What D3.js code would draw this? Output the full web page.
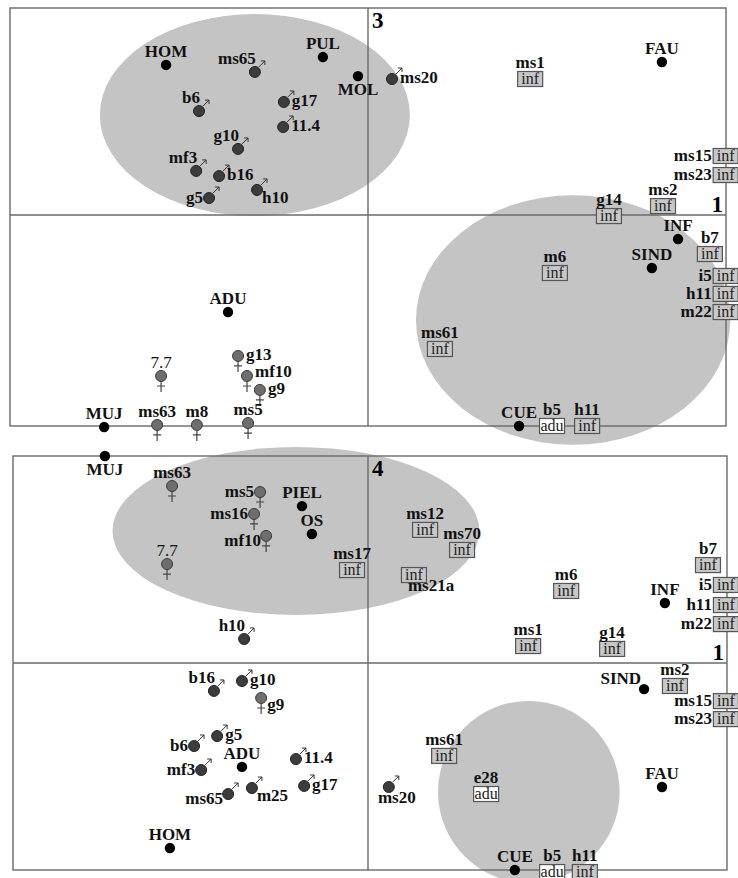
<!DOCTYPE html>
<html><head><meta charset="utf-8">
<script src="https://cdn.jsdelivr.net/npm/d3@7"></script>
<style>html,body{margin:0;padding:0;background:#fff;}</style>
</head><body>
<script>
// ---------- DATA (axis scores) ----------
// Panel A: axis 1 (horizontal) x axis 3 (vertical)
const topAxisNames = ["1", "3"];
const topSupplementary = [["HOM",-0.564,0.725],["PUL",-0.126,0.763],["MOL",-0.028,0.671],["FAU",0.821,0.739],["INF",0.866,-0.114],["SIND",0.793,-0.251],["ADU",-0.391,-0.460],["MUJ",-0.737,-1.005],["CUE",0.422,-1.0]];
const topMale = [["ms65",-0.316,0.691],["b6",-0.472,0.502],["g17",-0.235,0.546],["11.4",-0.237,0.425],["g10",-0.363,0.319],["mf3",-0.480,0.213],["b16",-0.416,0.188],["h10",-0.310,0.121],["g5",-0.444,0.082],["ms20",0.067,0.657]];
const topFemale = [["g13",-0.363,-0.668],["7.7",-0.578,-0.763],["mf10",-0.338,-0.763],["g9",-0.302,-0.829],["ms63",-0.589,-0.995],["m8",-0.478,-0.995],["ms5",-0.335,-0.986]];
const topInfant = [["ms1",0.453,0.657],["ms15",0.999,0.285],["ms23",0.999,0.193],["ms2",0.824,0.043],["g14",0.673,-0.005],["b7",0.955,-0.185],["m6",0.522,-0.275],["i5",0.999,-0.289],["h11",0.999,-0.374],["m22",0.999,-0.460],["ms61",0.201,-0.635],["h11",0.612,-1.0]];
const topAdult = [["b5",0.514,-1.0]];
const topEllipses = [[-0.316,0.483,0.433,0.488],[0.573,-0.498,0.439,0.592]];

// Panel B: axis 1 (horizontal) x axis 4 (vertical)
const bottomAxisNames = ["1", "4"];
const bottomSupplementary = [["MUJ",-0.741,1.0],["PIEL",-0.186,0.758],["OS",-0.158,0.623],["INF",0.827,0.290],["SIND",0.769,-0.126],["ADU",-0.355,-0.502],["HOM",-0.558,-0.894],["FAU",0.819,-0.599],["CUE",0.409,-1.0]];
const bottomMale = [["h10",-0.349,0.116],["b16",-0.434,-0.135],["g10",-0.355,-0.087],["g5",-0.425,-0.353],["b6",-0.490,-0.401],["11.4",-0.203,-0.464],["mf3",-0.470,-0.517],["ms65",-0.394,-0.633],["m25",-0.327,-0.604],["g17",-0.180,-0.594],["ms20",0.058,-0.599]];
const bottomFemale = [["ms63",-0.552,0.855],["ms5",-0.304,0.826],["ms16",-0.321,0.720],["mf10",-0.287,0.614],["7.7",-0.566,0.478],["g9",-0.301,-0.169]];
const bottomInfant = [["ms17",-0.045,0.449],["ms12",0.159,0.643],["ms70",0.262,0.546],["ms21a",0.128,0.425],["m6",0.552,0.348],["b7",0.947,0.473],["i5",0.997,0.377],["h11",0.997,0.280],["m22",0.997,0.188],["ms1",0.446,0.082],["g14",0.680,0.068],["ms2",0.855,-0.111],["ms15",0.997,-0.184],["ms23",0.997,-0.271],["ms61",0.212,-0.449],["h11",0.604,-1.01]];
const bottomAdult = [["e28",0.329,-0.633],["b5",0.513,-1.01]];
const bottomEllipses = [[-0.203,0.638,0.515,0.406],[0.448,-0.623,0.253,0.440]];

// ---------- LABEL PLACEMENT (parallel to the data arrays) ----------
const topSupLab = ["t","t","b","t","t","t","t","t","t"];
const topMaleLab = ["tl","tl","r","r","tl","tl","r","br","l","r"];
const topFemaleLab = ["r","t","rc","r","t","t","t"];
const topInfLab = ["t","l","l","t","t","t","t","l","l","l","t","t"];
const topAduLab = ["t"];
const bottomSupLab = ["b","t","t","t","ul","t","t","t","t"];
const bottomMaleLab = ["tl","tl","r","r","l","r","l","lb","br","r","bR"];
const bottomFemaleLab = ["t","l","l","lb","t","rb"];
const bottomInfLab = ["t","t","t","bb","t","t","l","l","l","t","t","t","l","l","t","t"];
const bottomAduLab = ["t","t"];

// ---------- RENDER ----------
const W = 738, H = 878;
const svg = d3.select("body").append("svg").attr("width", W).attr("height", H);
const FONT = "'Liberation Serif','Times New Roman',serif";

const dotOff = {t:["middle",0,-8], b:["middle",0,19], bR:["middle",8,16], r:["start",8,4], rc:["start",8,1], rb:["start",6,12],
  l:["end",-6,5], lb:["end",-5,10], tl:["end",1,-8], br:["start",5,13], ul:["end",-3,-5]};
const boxOff = {t:["middle",0,-11], l:["end",-14,5], bb:["start",-6,16]};

function panel(cfg) {
  const x = d3.scaleLinear().domain([-1,0,1]).range(cfg.xr);
  const y = d3.scaleLinear().domain([-1,0,1]).range(cfg.yr);
  const g = svg.append("g");

  // ellipses
  g.selectAll("ellipse").data(cfg.ellipses).join("ellipse")
    .attr("cx", d => x(d[0])).attr("cy", d => y(d[1]))
    .attr("rx", d => (x(d[0]+d[2]) - x(d[0]-d[2]))/2)
    .attr("ry", d => (y(d[1]-d[3]) - y(d[1]+d[3]))/2)
    .attr("fill", "#c4c4c4");

  // frame and axes
  const fr = g.append("g").attr("stroke", "#6a6a6a").attr("stroke-width", 1.4).attr("fill", "none");
  fr.append("rect").attr("x", x(-1)).attr("y", y(1)).attr("width", x(1)-x(-1)).attr("height", y(-1)-y(1));
  fr.append("line").attr("x1", x(0)).attr("x2", x(0)).attr("y1", y(1)).attr("y2", y(-1));
  fr.append("line").attr("x1", x(-1)).attr("x2", x(1)).attr("y1", y(0)).attr("y2", y(0));

  g.append("text").attr("x", x(1)-3).attr("y", y(0)-3).attr("text-anchor","end")
    .attr("font-family", FONT).attr("font-weight","bold").attr("font-size", 23).text(cfg.axisNames[0]);
  g.append("text").attr("x", x(0)+4).attr("y", y(1)+20).attr("text-anchor","start")
    .attr("font-family", FONT).attr("font-weight","bold").attr("font-size", 23).text(cfg.axisNames[1]);

  function label(px, py, name, off) {
    g.append("text").attr("x", px + off[1]).attr("y", py + off[2]).attr("text-anchor", off[0])
      .attr("font-family", FONT).attr("font-weight", name === "7.7" ? "normal" : "bold")
      .attr("font-size", 17).attr("fill", "#111").text(name);
  }

  // boxes
  function boxes(data, labs, fill, txt) {
    data.forEach((d, i) => {
      const px = x(d[1]), py = y(d[2]);
      g.append("rect").attr("x", px-12.5).attr("y", py-7.5).attr("width", 25).attr("height", 15)
        .attr("fill", fill).attr("stroke", "#555").attr("stroke-width", 1.2);
      g.append("text").attr("x", px).attr("y", py+5).attr("text-anchor","middle")
        .attr("font-family", FONT).attr("font-size", 16).attr("fill", "#222").text(txt);
      label(px, py, d[0], boxOff[labs[i]]);
    });
  }
  boxes(cfg.inf, cfg.infLab, "#c8c8c8", "inf");
  boxes(cfg.adu, cfg.aduLab, "#ffffff", "adu");

  // females
  cfg.female.forEach((d, i) => {
    const px = x(d[1]), py = y(d[2]);
    g.append("path").attr("d", `M${px},${py+5}L${px},${py+16}M${px-4},${py+10}L${px+4},${py+10}`)
      .attr("stroke", "#444").attr("stroke-width", 1.2).attr("fill", "none");
    g.append("circle").attr("cx", px).attr("cy", py).attr("r", 5.5)
      .attr("fill", "#6e6e6e").attr("stroke", "#3a3a3a").attr("stroke-width", 1);
    label(px, py, d[0], dotOff[cfg.femaleLab[i]]);
  });

  // males
  cfg.male.forEach((d, i) => {
    const px = x(d[1]), py = y(d[2]);
    g.append("path").attr("d", `M${px+4},${py-5}L${px+10},${py-11}M${px+6},${py-11}L${px+10},${py-11}L${px+10},${py-7}`)
      .attr("stroke", "#333").attr("stroke-width", 1).attr("fill", "none");
    g.append("circle").attr("cx", px).attr("cy", py).attr("r", 5.5)
      .attr("fill", "#3c3c3c").attr("stroke", "#222").attr("stroke-width", 1);
    label(px, py, d[0], dotOff[cfg.maleLab[i]]);
  });

  // supplementary
  cfg.sup.forEach((d, i) => {
    const px = x(d[1]), py = y(d[2]);
    g.append("circle").attr("cx", px).attr("cy", py).attr("r", 5.2).attr("fill", "#000");
    label(px, py, d[0], dotOff[cfg.supLab[i]]);
  });
}

panel({xr:[10,368,726], yr:[426,215,8], ellipses: topEllipses, axisNames: topAxisNames,
  sup: topSupplementary, supLab: topSupLab, male: topMale, maleLab: topMaleLab,
  female: topFemale, femaleLab: topFemaleLab, inf: topInfant, infLab: topInfLab,
  adu: topAdult, aduLab: topAduLab});
panel({xr:[13,368,727], yr:[870,663,456], ellipses: bottomEllipses, axisNames: bottomAxisNames,
  sup: bottomSupplementary, supLab: bottomSupLab, male: bottomMale, maleLab: bottomMaleLab,
  female: bottomFemale, femaleLab: bottomFemaleLab, inf: bottomInfant, infLab: bottomInfLab,
  adu: bottomAdult, aduLab: bottomAduLab});
</script>
</body></html>
